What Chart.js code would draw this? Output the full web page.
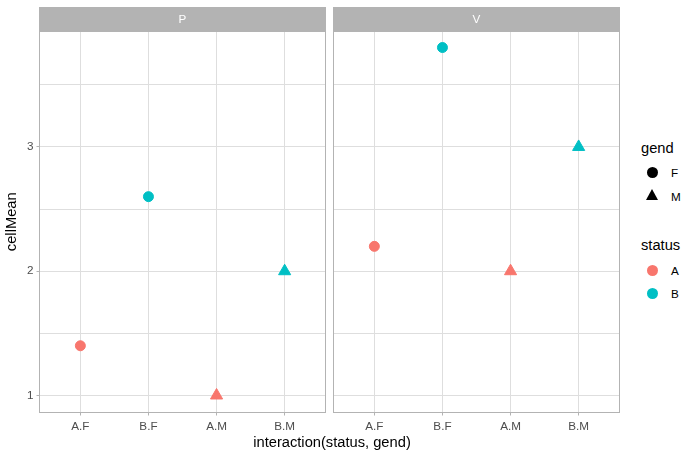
<!DOCTYPE html>
<html>
<head>
<meta charset="utf-8">
<script src="https://cdn.jsdelivr.net/npm/chart.js@4.4.1/dist/chart.umd.min.js"></script>
<style>
  body { margin: 0; background: #fff; font-family: Arial, "Liberation Sans", sans-serif; }
  #wrap { position: relative; width: 696px; height: 457px; overflow: hidden; }
  canvas { position: absolute; top: 0; }
  .txt { position: absolute; white-space: nowrap; color: #000; }
  .ttl { font-size: 14.7px; line-height: 18px; }
  .lab { font-size: 11.7px; line-height: 14px; }
  .dot { position: absolute; width: 11px; height: 11px; border-radius: 50%; }
  .tri { position: absolute; width: 0; height: 0; border-left: 6.5px solid transparent;
         border-right: 6.5px solid transparent; border-bottom: 11px solid #000; }
</style>
</head>
<body>
<div id="wrap">
  <canvas id="panelP" width="334" height="457" style="left:0"></canvas>
  <canvas id="panelV" width="303" height="457" style="left:325px"></canvas>

  <div class="txt ttl" style="left:0;width:664px;text-align:center;top:433px">interaction(status, gend)</div>

  <!-- legends -->
  <div class="txt ttl" style="left:641px;top:139px">gend</div>
  <div class="dot" style="left:647px;top:167px;background:#000"></div>
  <div class="txt lab" style="left:671px;top:166px">F</div>
  <div class="tri" style="left:646px;top:189px"></div>
  <div class="txt lab" style="left:671px;top:190px">M</div>

  <div class="txt ttl" style="left:641px;top:236px">status</div>
  <div class="dot" id="keyA" style="left:647px;top:265px"></div>
  <div class="txt lab" style="left:671px;top:264px">A</div>
  <div class="dot" id="keyB" style="left:647px;top:288px"></div>
  <div class="txt lab" style="left:671px;top:287px">B</div>
</div>

<script>
// data
const categories = ["A.F", "B.F", "A.M", "B.M"];
const statusOf = ["A", "B", "A", "B"];
const gendOf = ["F", "F", "M", "M"];
const meansP = [1.4, 2.6, 1.0, 2.0];
const meansV = [2.2, 3.8, 2.0, 3.0];
const yTickLabels = [1, 2, 3];
const yMinorGrid = [1.5, 2.5, 3.5];

const statusColors = { A: "#F8766D", B: "#00BFC4" };
document.getElementById("keyA").style.background = statusColors.A;
document.getElementById("keyB").style.background = statusColors.B;

// strip on top of each facet + panel border
const facetPlugin = {
  id: "facet",
  beforeDatasetsDraw(chart, args, opts) {
    const { ctx, chartArea: a } = chart;
    ctx.save();
    ctx.fillStyle = "#b3b3b3";
    ctx.fillRect(a.left - 0.5, 7, a.right - a.left + 1, 24);
    ctx.fillStyle = "#ffffff";
    ctx.font = "11.7px Arial, 'Liberation Sans', sans-serif";
    ctx.textAlign = "center";
    ctx.textBaseline = "middle";
    ctx.fillText(opts.text, (a.left + a.right) / 2, 19.5);
    ctx.strokeStyle = "#b3b3b3";
    ctx.lineWidth = 1;
    ctx.strokeRect(a.left, a.top + 0.5, a.right - a.left, a.bottom - a.top - 0.5);
    ctx.restore();
  }
};

function makePanel(id, name, values, showY, yWidth, padRight) {
  const points = values.map((v, i) => ({ x: i + 1, y: v }));
  return new Chart(document.getElementById(id), {
    type: "scatter",
    data: {
      datasets: [{
        data: points,
        pointStyle: gendOf.map(g => g === "F" ? "circle" : "triangle"),
        pointRadius: gendOf.map(g => g === "F" ? 5 : 7),
        pointBackgroundColor: statusOf.map(s => statusColors[s]),
        pointBorderColor: statusOf.map(s => statusColors[s]),
        pointBorderWidth: 1
      }]
    },
    options: {
      responsive: false,
      animation: false,
      events: [],
      layout: { padding: { left: 0, top: 31, right: padRight, bottom: 0 } },
      plugins: {
        legend: { display: false },
        tooltip: { enabled: false },
        facet: { text: name }
      },
      scales: {
        x: {
          type: "linear",
          min: 0.4,
          max: 4.6,
          afterBuildTicks: s => { s.ticks = categories.map((c, i) => ({ value: i + 1 })); },
          afterFit: s => { s.height = 44.5; },
          ticks: {
            callback: (v, i) => categories[i],
            color: "#4d4d4d",
            font: { size: 11.7, family: "Arial, 'Liberation Sans', sans-serif" },
            padding: 4,
            maxRotation: 0
          },
          grid: { color: "#dedede", tickColor: "#b3b3b3", tickLength: 3 },
          border: { display: false }
        },
        y: {
          type: "linear",
          min: 0.863,
          max: 3.933,
          afterBuildTicks: s => {
            s.ticks = yTickLabels.concat(yMinorGrid).sort((a, b) => a - b).map(v => ({ value: v }));
          },
          afterFit: s => { s.width = yWidth; },
          ticks: {
            display: showY,
            callback: v => yTickLabels.includes(v) ? String(v) : "",
            color: "#4d4d4d",
            font: { size: 11.7, family: "Arial, 'Liberation Sans', sans-serif" },
            padding: 3
          },
          grid: {
            color: "#dedede",
            drawTicks: showY,
            tickLength: 3,
            tickColor: c => yTickLabels.includes(c.tick && c.tick.value) ? "#b3b3b3" : "rgba(0,0,0,0)"
          },
          border: { display: false },
          title: {
            display: showY,
            text: "cellMean",
            color: "#000",
            font: { size: 14.7, family: "Arial, 'Liberation Sans', sans-serif" },
            padding: { top: 3, bottom: 0 }
          }
        }
      }
    },
    plugins: [facetPlugin]
  });
}

makePanel("panelP", "P", meansP, true, 39.5, 8.5);
makePanel("panelV", "V", meansV, false, 8.5, 8.5);
</script>
</body>
</html>
